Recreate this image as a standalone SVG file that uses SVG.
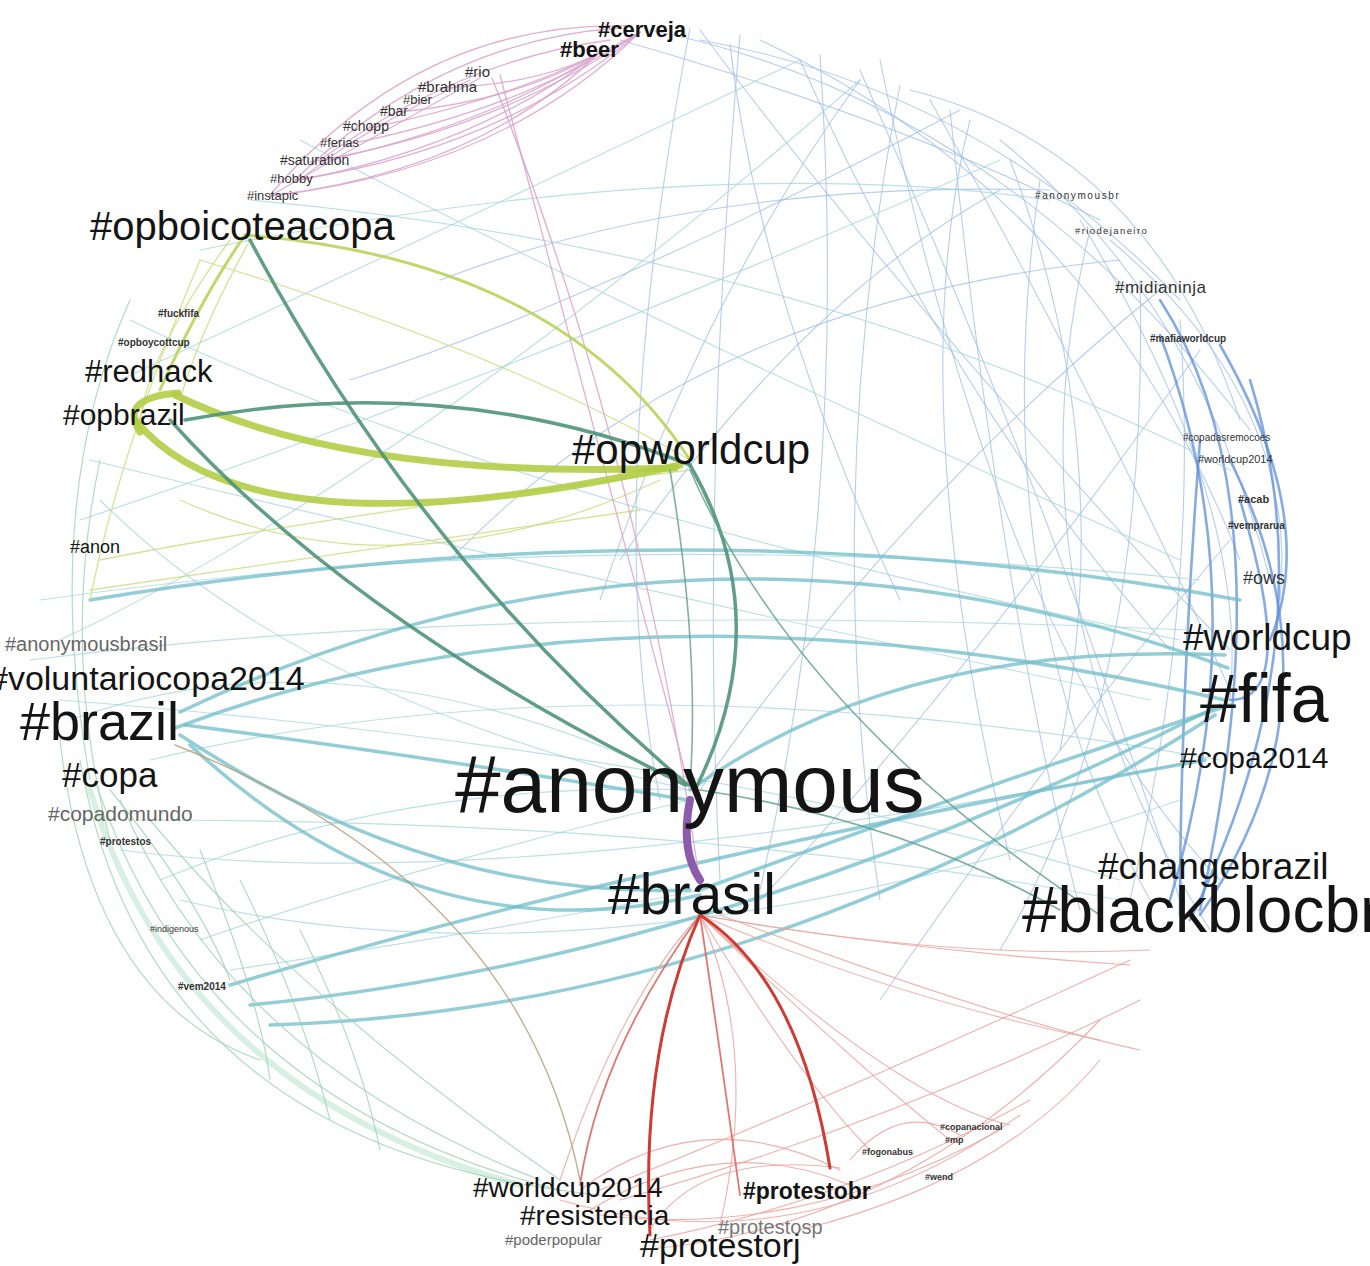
<svg xmlns="http://www.w3.org/2000/svg" width="1370" height="1266" viewBox="0 0 1370 1266">
<style>
text{font-family:"Liberation Sans",Arial,sans-serif;fill:#141414}
.e{fill:none;stroke-linecap:round}
.bt{stroke:#9dbde6;stroke-width:1.1;opacity:.75}
.b2{stroke:#5d8fd8;stroke-width:2.6;opacity:.75}
.ct{stroke:#9fd3dc;stroke-width:1.2;opacity:.7}
.t3{stroke:#6fbcc8;stroke-width:3.5;opacity:.75}
.gt{stroke:#9ed3b2;stroke-width:1.2;opacity:.8}
.gw{stroke:#a9dcc1;stroke-width:6;opacity:.45}
.yt{stroke:#c9dc7a;stroke-width:1.3;opacity:.8}
.yg{stroke:#b1cd45;stroke-width:7;opacity:.9}
.ym{stroke:#b9d45a;stroke-width:3;opacity:.9}
.dg{stroke:#4f9379;stroke-width:3.5;opacity:.9}
.dgt{stroke:#5f9e87;stroke-width:1.6;opacity:.8}
.pu{stroke:#8c5bab;stroke-width:8}
.rd{stroke:#cf3a32;stroke-width:3}
.rm{stroke:#d9605a;stroke-width:1.8;opacity:.85}
.rt{stroke:#eba39e;stroke-width:1.1;opacity:.85}
.pk{stroke:#d8a2cc;stroke-width:1.3;opacity:.85}
.br{stroke:#b49a72;stroke-width:1.4;opacity:.8}
.s{fill:#333}
.g{fill:#666}
</style>
<rect width="1370" height="1266" fill="#fff"/>
<g id="connectors">
<path class="e bt" d="M700 30 Q900 300 1230 650"/>
<path class="e bt" d="M760 40 Q1100 200 1240 560"/>
<path class="e bt" d="M820 55 Q850 500 760 890"/>
<path class="e bt" d="M860 70 Q1050 500 1180 900"/>
<path class="e bt" d="M900 85 Q820 500 880 900"/>
<path class="e bt" d="M930 100 Q1100 400 1230 690"/>
<path class="e bt" d="M970 120 Q900 400 1010 860"/>
<path class="e bt" d="M1000 140 Q1200 300 1270 580"/>
<path class="e bt" d="M1040 180 Q980 600 1150 900"/>
<path class="e bt" d="M1080 220 Q1250 500 1230 700"/>
<path class="e bt" d="M650 30 Q1000 100 1250 430"/>
<path class="e bt" d="M690 28 Q600 500 660 800"/>
<path class="e bt" d="M740 35 Q700 500 720 880"/>
<path class="e bt" d="M1000 190 Q800 300 620 560"/>
<path class="e bt" d="M1120 260 Q700 300 450 560"/>
<path class="e bt" d="M1160 290 Q900 500 700 790"/>
<path class="e bt" d="M1200 350 Q950 700 760 900"/>
<path class="e bt" d="M880 60 Q1000 650 1220 880"/>
<path class="e bt" d="M950 110 Q1000 600 1080 910"/>
<path class="e bt" d="M1110 240 Q1300 400 1280 600"/>
<path class="e bt" d="M800 60 Q950 400 1170 650"/>
<path class="e bt" d="M620 40 Q900 120 1100 220"/>
<path class="e bt" d="M1050 190 Q700 180 440 280"/>
<path class="e bt" d="M960 110 Q600 300 350 380"/>
<path class="e bt" d="M1140 280 Q1150 700 1000 950"/>
<path class="e bt" d="M1230 540 Q1050 750 880 1000"/>
<path class="e bt" d="M700 40 Q980 90 1180 300"/>
<path class="e bt" d="M730 45 Q760 300 900 600"/>
<path class="e bt" d="M1010 160 Q1120 450 1060 750"/>
<path class="e bt" d="M1180 320 Q1200 600 1130 900"/>
<path class="e bt" d="M860 80 Q700 300 600 600"/>
<path class="e bt" d="M1090 230 Q1000 600 1210 930"/>
<path class="e bt" d="M910 90 Q1150 150 1240 420"/>
<path class="e b2" d="M1160 300 Q1290 500 1200 910"/>
<path class="e b2" d="M1220 345 Q1320 520 1270 640"/>
<path class="e b2" d="M1250 380 Q1330 640 1190 920"/>
<path class="e b2" d="M1200 440 Q1180 700 1180 915"/>
<path class="e b2" d="M1230 460 Q1350 700 1200 915"/>
<path class="e b2" d="M1160 335 Q1260 600 1170 900"/>
<path class="e b2" d="M1240 500 Q1300 700 1230 700"/>
<path class="e ct" d="M40 600 Q600 520 1200 580"/>
<path class="e ct" d="M30 660 Q500 600 1190 630"/>
<path class="e ct" d="M130 320 Q500 500 1180 640"/>
<path class="e ct" d="M200 250 Q700 150 1050 200"/>
<path class="e ct" d="M80 520 Q500 380 1000 160"/>
<path class="e ct" d="M60 640 Q400 480 860 80"/>
<path class="e ct" d="M150 760 Q600 650 1220 760"/>
<path class="e ct" d="M120 850 Q500 900 1200 760"/>
<path class="e ct" d="M180 900 Q600 1000 1180 800"/>
<path class="e ct" d="M100 500 Q300 700 690 790"/>
<path class="e ct" d="M300 140 Q600 300 1180 560"/>
<path class="e ct" d="M250 200 Q800 250 1230 470"/>
<path class="e ct" d="M60 700 Q700 750 1120 880"/>
<path class="e ct" d="M140 820 Q700 820 1120 900"/>
<path class="e ct" d="M200 940 Q400 870 690 800"/>
<path class="e ct" d="M230 970 Q500 930 700 890"/>
<path class="e ct" d="M160 880 Q400 780 690 790"/>
<path class="e ct" d="M90 460 Q500 560 1150 700"/>
<path class="e ct" d="M120 380 Q400 250 800 60"/>
<path class="e ct" d="M70 720 Q350 620 690 785"/>
<path class="e t3" d="M180 712 Q690 470 1228 668"/>
<path class="e t3" d="M175 728 Q620 560 1225 700"/>
<path class="e t3" d="M270 1025 Q760 1010 1215 715"/>
<path class="e t3" d="M250 1005 Q720 960 1220 705"/>
<path class="e t3" d="M230 985 Q650 860 1205 760"/>
<path class="e t3" d="M180 735 Q430 900 690 890"/>
<path class="e t3" d="M190 745 Q420 960 700 895"/>
<path class="e t3" d="M700 890 Q1000 780 1230 705"/>
<path class="e t3" d="M690 790 Q900 640 1225 655"/>
<path class="e t3" d="M185 725 Q450 760 688 800"/>
<path class="e t3" d="M90 600 Q700 500 1240 600"/>
<path class="e gw" d="M90 790 Q180 1090 520 1185"/>
<path class="e gt" d="M95 780 Q200 1100 560 1190"/>
<path class="e gt" d="M120 800 Q230 1060 540 1180"/>
<path class="e gt" d="M80 760 Q150 1150 600 1195"/>
<path class="e gt" d="M150 820 Q300 1000 560 1180"/>
<path class="e gt" d="M200 850 Q260 1000 270 1080"/>
<path class="e gt" d="M240 880 Q300 1000 330 1120"/>
<path class="e gt" d="M300 930 Q360 1050 380 1150"/>
<path class="e gt" d="M110 790 Q200 900 230 980"/>
<path class="e gt" d="M60 740 Q90 1000 260 1060"/>
<path class="e gt" d="M130 300 Q40 500 90 780"/>
<path class="e gt" d="M100 460 Q60 650 110 840"/>
<path class="e yt" d="M200 260 Q120 450 90 600"/>
<path class="e yt" d="M230 240 Q150 350 140 420"/>
<path class="e yt" d="M250 240 Q200 330 180 400"/>
<path class="e yt" d="M90 590 Q300 560 640 510"/>
<path class="e yt" d="M100 560 Q300 520 690 470"/>
<path class="e yt" d="M180 500 Q400 600 660 480"/>
<path class="e yt" d="M200 260 Q500 350 690 460"/>
<path class="e pk" d="M640 32 Q500 170 270 196"/>
<path class="e pk" d="M640 32 Q500 150 295 180"/>
<path class="e pk" d="M640 32 Q500 130 310 162"/>
<path class="e pk" d="M640 32 Q520 110 345 145"/>
<path class="e pk" d="M640 32 Q530 95 370 128"/>
<path class="e pk" d="M600 52 Q480 170 270 196"/>
<path class="e pk" d="M600 52 Q480 145 300 180"/>
<path class="e pk" d="M600 52 Q500 120 330 160"/>
<path class="e pk" d="M600 52 Q520 100 400 112"/>
<path class="e pk" d="M600 52 Q540 85 440 88"/>
<path class="e pk" d="M630 26 Q420 20 270 195"/>
<path class="e pk" d="M620 28 Q440 40 295 180"/>
<path class="e pk" d="M610 40 Q460 60 320 160"/>
<path class="e pk" d="M480 78 Q350 150 270 196"/>
<path class="e pk" d="M470 80 Q360 130 300 180"/>
<path class="e pk" d="M492 78 Q640 450 700 885"/>
<path class="e pk" d="M500 75 Q560 300 690 790"/>
<path class="e br" d="M175 745 Q520 880 580 1180"/>
<path class="e ym" d="M245 235 Q560 260 690 460"/>
<path class="e yg" d="M135 420 Q250 560 680 465"/>
<path class="e yg" d="M175 395 Q350 480 675 468"/>
<path class="e yg" d="M178 393 Q118 398 140 432"/>
<path class="e ym" d="M160 390 Q200 300 245 235"/>
<path class="e dg" d="M170 420 Q350 620 685 785"/>
<path class="e dg" d="M250 240 Q420 560 688 785"/>
<path class="e dg" d="M690 465 Q780 620 695 790"/>
<path class="e dgt" d="M670 470 Q700 650 690 785"/>
<path class="e dg" d="M185 420 Q450 370 690 465"/>
<path class="e dgt" d="M700 790 Q900 820 1060 910"/>
<path class="e dgt" d="M690 470 Q800 720 1100 915"/>
<path class="e pu" d="M690 800 Q680 850 700 880"/>
<path class="e rt" d="M700 915 Q900 950 1130 965"/>
<path class="e rt" d="M700 915 Q900 1000 1100 1040"/>
<path class="e rt" d="M700 915 Q850 1060 950 1140"/>
<path class="e rt" d="M700 915 Q900 1100 1010 1125"/>
<path class="e rt" d="M700 915 Q950 960 1150 950"/>
<path class="e rt" d="M720 915 Q1000 1020 1140 1050"/>
<path class="e rt" d="M580 1190 Q700 1100 840 1170"/>
<path class="e rt" d="M590 1210 Q720 1130 850 1185"/>
<path class="e rt" d="M600 1215 Q800 1240 1000 1130"/>
<path class="e rt" d="M560 1200 Q800 1270 1020 1115"/>
<path class="e rt" d="M650 1240 Q850 1200 1030 1100"/>
<path class="e rt" d="M600 1190 Q850 1090 1130 960"/>
<path class="e rt" d="M620 1200 Q900 1120 1140 1000"/>
<path class="e rt" d="M650 1230 Q700 1150 840 1168"/>
<path class="e rt" d="M800 1230 Q1000 1180 1100 1060"/>
<path class="e rt" d="M850 1160 Q900 1100 960 1135"/>
<path class="e rt" d="M700 915 Q800 1080 870 1150"/>
<path class="e rt" d="M700 915 Q620 1000 560 1180"/>
<path class="e rt" d="M700 915 Q760 1050 720 1225"/>
<path class="e rt" d="M640 1250 Q900 1230 1100 1020"/>
<path class="e rm" d="M700 915 Q720 1050 740 1195"/>
<path class="e rm" d="M700 915 Q600 1050 580 1185"/>
<path class="e rd" d="M700 915 Q800 980 830 1168"/>
<path class="e rd" d="M700 915 Q640 1050 650 1235"/>
</g>
<g id="n-anonymous"><text x="455" y="812" font-size="82">#anonymous</text></g>
<g id="n-brasil"><text x="608" y="914" font-size="57">#brasil</text></g>
<g id="n-blackblocbr"><text x="1022" y="932" font-size="64">#blackblocbr</text></g>
<g id="n-changebrazil"><text x="1098" y="879" font-size="37">#changebrazil</text></g>
<g id="n-fifa"><text x="1200" y="722" font-size="68">#fifa</text></g>
<g id="n-worldcup"><text x="1183" y="650" font-size="37">#worldcup</text></g>
<g id="n-copa2014"><text x="1180" y="768" font-size="30">#copa2014</text></g>
<g id="n-opworldcup"><text x="572" y="464" font-size="42">#opworldcup</text></g>
<g id="n-opboicoteacopa"><text x="90" y="240" font-size="40">#opboicoteacopa</text></g>
<g id="n-redhack"><text x="85" y="382" font-size="31">#redhack</text></g>
<g id="n-opbrazil"><text x="63" y="425" font-size="30">#opbrazil</text></g>
<g id="n-anon"><text x="70" y="553" font-size="18">#anon</text></g>
<g id="n-anonymousbrasil"><text x="5" y="651" font-size="20" class="g">#anonymousbrasil</text></g>
<g id="n-voluntariocopa2014"><text x="-11" y="690" font-size="34">#voluntariocopa2014</text></g>
<g id="n-brazil"><text x="20" y="740" font-size="54">#brazil</text></g>
<g id="n-copa"><text x="62" y="787" font-size="35">#copa</text></g>
<g id="n-copadomundo"><text x="48" y="821" font-size="21" class="g">#copadomundo</text></g>
<g id="n-worldcup2014"><text x="473" y="1197" font-size="28">#worldcup2014</text></g>
<g id="n-resistencia"><text x="520" y="1225" font-size="28">#resistencia</text></g>
<g id="n-poderpopular"><text x="505" y="1245" font-size="15" class="g">#poderpopular</text></g>
<g id="n-protestorj"><text x="640" y="1257" font-size="34">#protestorj</text></g>
<g id="n-protestosp"><text x="718" y="1234" font-size="20" style="fill:#777">#protestosp</text></g>
<g id="n-protestobr"><text x="743" y="1199" font-size="23" font-weight="bold">#protestobr</text></g>
<g id="n-cerveja"><text x="598" y="37" font-size="22" font-weight="bold">#cerveja</text></g>
<g id="n-beer"><text x="560" y="57" font-size="22" font-weight="bold">#beer</text></g>
<g id="n-rio"><text x="465" y="77" font-size="15" class="s">#rio</text></g>
<g id="n-brahma"><text x="418" y="92" font-size="15" class="s">#brahma</text></g>
<g id="n-bier"><text x="403" y="104" font-size="13" class="s">#bier</text></g>
<g id="n-bar"><text x="380" y="116" font-size="14" class="s">#bar</text></g>
<g id="n-chopp"><text x="343" y="131" font-size="14" class="s">#chopp</text></g>
<g id="n-ferias"><text x="320" y="147" font-size="13" class="s">#ferias</text></g>
<g id="n-saturation"><text x="280" y="165" font-size="14" class="s">#saturation</text></g>
<g id="n-hobby"><text x="270" y="183" font-size="13" class="s">#hobby</text></g>
<g id="n-instapic"><text x="247" y="200" font-size="13" class="s">#instapic</text></g>
<g id="n-anonymousbr"><text x="1035" y="199" font-size="10" letter-spacing="1.6" class="s">#anonymousbr</text></g>
<g id="n-riodejaneiro"><text x="1075" y="234" font-size="9.5" letter-spacing="1.4" class="s">#riodejaneiro</text></g>
<g id="n-midianinja"><text x="1115" y="293" font-size="17" letter-spacing="0.5" class="s">#midianinja</text></g>
<g id="n-mafiaworldcup"><text x="1150" y="342" font-size="10" font-weight="bold" class="s">#mafiaworldcup</text></g>
<g id="n-copadasremocoes"><text x="1183" y="441" font-size="10" class="s">#copadasremocoes</text></g>
<g id="n-worldcup2014b"><text x="1198" y="463" font-size="11" class="s">#worldcup2014</text></g>
<g id="n-acab"><text x="1238" y="503" font-size="11" font-weight="bold" class="s">#acab</text></g>
<g id="n-vemprarua"><text x="1228" y="529" font-size="10" font-weight="bold" class="s">#vemprarua</text></g>
<g id="n-ows"><text x="1243" y="584" font-size="18" class="s">#ows</text></g>
<g id="n-fuckfifa"><text x="158" y="317" font-size="10" font-weight="bold" class="s">#fuckfifa</text></g>
<g id="n-opboycottcup"><text x="118" y="346" font-size="10" font-weight="bold" class="s">#opboycottcup</text></g>
<g id="n-protestos"><text x="100" y="845" font-size="10" font-weight="bold" class="s">#protestos</text></g>
<g id="n-indigenous"><text x="150" y="932" font-size="9" class="s">#indigenous</text></g>
<g id="n-vem2014"><text x="178" y="990" font-size="10" font-weight="bold" class="s">#vem2014</text></g>
<g id="n-copanacional"><text x="940" y="1130" font-size="9" font-weight="bold" class="s">#copanacional</text></g>
<g id="n-mp"><text x="945" y="1143" font-size="9" font-weight="bold" class="s">#mp</text></g>
<g id="n-fogonabus"><text x="862" y="1155" font-size="9" font-weight="bold" class="s">#fogonabus</text></g>
<g id="n-wend"><text x="925" y="1180" font-size="9" font-weight="bold" class="s">#wend</text></g>
</svg>
